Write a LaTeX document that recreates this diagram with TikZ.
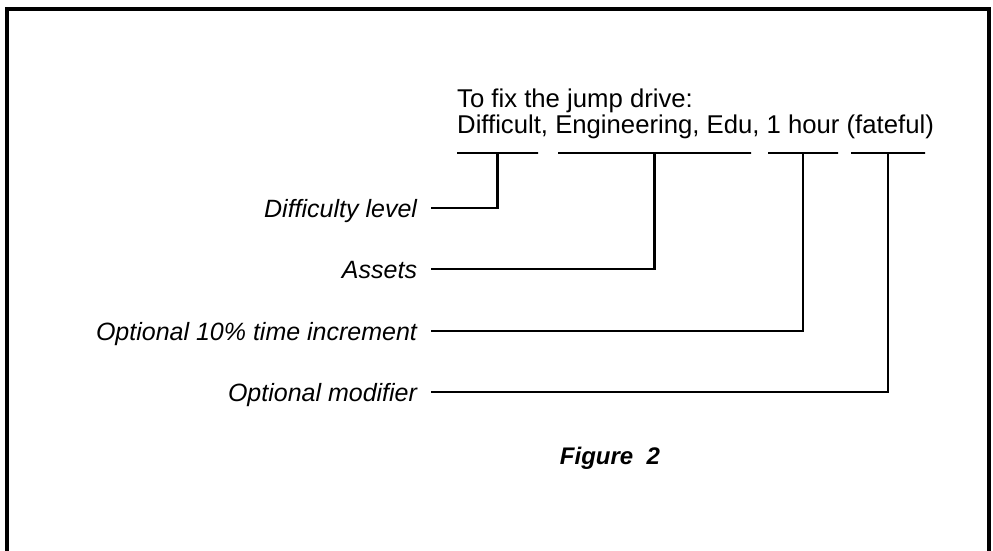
\documentclass[tikz,border=0pt]{standalone}
\usepackage{fontspec}
\setmainfont{Liberation Sans}
\begin{document}
\begin{tikzpicture}[x=1pt,y=-1pt,
  lbl/.style={anchor=east, inner xsep=0pt, inner ysep=0pt, outer xsep=14pt, outer ysep=0pt,
    font=\fontsize{25}{30}\selectfont\itshape, text height=18pt, text depth=0pt},
  uline/.style={draw, line width=2.8pt, minimum height=0pt, inner sep=0pt, outer sep=0pt},
  conn/.style={line width=2.4pt},
  body/.style={anchor=base west, inner sep=0pt, font=\fontsize{25.7}{30}\selectfont},
  frame/.style={line width=4pt}]
\useasboundingbox (0,0) rectangle (993,550);
\draw[frame] (7,552) -- (7,9) -- (989,9) -- (989,552);
% text block
\node[body] (t1) at (457,107) {To fix the jump drive:};
\node[body] (t2) at (457,133) {Difficult, Engineering, Edu, 1 hour (fateful)};
% underlines
\node[uline, minimum width=81pt] (u1) at (497.5,153) {};
\node[uline, minimum width=193pt] (u2) at (654.5,153) {};
\node[uline, minimum width=70pt] (u3) at (803,153) {};
\node[uline, minimum width=74pt] (u4) at (888,153) {};
% labels
\node[lbl] (l1) at (431,208) {Difficulty level};
\node[lbl] (l2) at (431,269) {Assets};
\node[lbl] (l3) at (431,331) {Optional 10\% time increment};
\node[lbl] (l4) at (431,392) {Optional modifier};
% connectors
\draw[conn] (l1.east) -| (u1);
\draw[conn] (l2.east) -| (u2);
\draw[conn] (l3.east) -| (u3);
\draw[conn] (l4.east) -| (u4);
% caption
\node[font=\fontsize{24}{28}\selectfont\bfseries\itshape, inner sep=0pt] (fig) at (610,458) {Figure~~2};
\end{tikzpicture}
\end{document}
